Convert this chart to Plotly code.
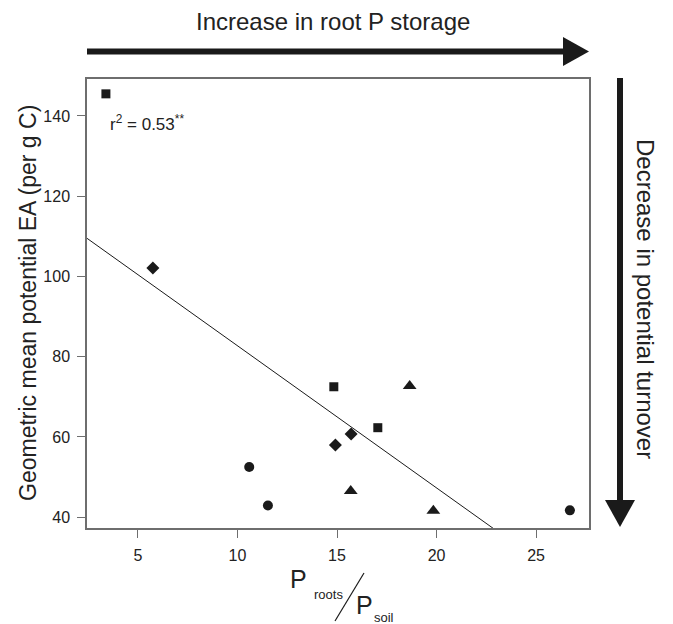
import numpy as np
import plotly.graph_objects as go

# ---- data ----
square_x = [3.39, 14.84, 17.05]
square_y = [145.5, 72.5, 62.3]
diamond_x = [5.75, 15.71, 14.92]
diamond_y = [102.1, 60.7, 58.0]
triangle_x = [18.65, 15.69, 19.84]
triangle_y = [72.7, 46.5, 41.6]
circle_x = [10.59, 11.53, 26.7]
circle_y = [52.5, 42.9, 41.7]

x_ticks = [5, 10, 15, 20, 25]
y_ticks = [40, 60, 80, 100, 120, 140]
x_range = [2.44, 27.66]
y_range = [37.3, 149.2]

# regression over all points
all_x = np.array(square_x + diamond_x + triangle_x + circle_x)
all_y = np.array(square_y + diamond_y + triangle_y + circle_y)
slope, intercept = np.polyfit(all_x, all_y, 1)
fit_x = np.array(x_range)
fit_y = intercept + slope * fit_x

FONT = "Liberation Sans, Arial, Helvetica, sans-serif"
INK = "#1a1a1a"

fig = go.Figure()
fig.add_trace(go.Scatter(x=fit_x, y=fit_y, mode="lines",
                         line=dict(color=INK, width=1), showlegend=False,
                         hoverinfo="skip"))
for xs, ys, sym, sz in [(square_x, square_y, "square", 9),
                        (diamond_x, diamond_y, "diamond", 10),
                        (triangle_x, triangle_y, "triangle-up", 12),
                        (circle_x, circle_y, "circle", 10)]:
    fig.add_trace(go.Scatter(x=xs, y=ys, mode="markers",
                             marker=dict(symbol=sym, size=sz, color=INK,
                                         line=dict(width=0)),
                             showlegend=False))

W, H = 502.0, 449.0
L, T = 87.0, 79.0
def px(xp):
    return (xp - L) / W
def py(yp):
    return (T + H - yp) / H

shapes = []
# horizontal arrow
shapes.append(dict(type="line", xref="paper", yref="paper",
                   x0=px(87), x1=px(566), y0=py(51.5), y1=py(51.5),
                   line=dict(color=INK, width=6)))
shapes.append(dict(type="path", xref="paper", yref="paper",
                   path=f"M {px(563)} {py(37)} L {px(589)} {py(51.5)} L {px(563)} {py(66)} Z",
                   fillcolor=INK, line=dict(width=0)))
# vertical arrow
shapes.append(dict(type="line", xref="paper", yref="paper",
                   x0=px(620), x1=px(620), y0=py(78), y1=py(503),
                   line=dict(color=INK, width=6)))
shapes.append(dict(type="path", xref="paper", yref="paper",
                   path=f"M {px(605)} {py(500)} L {px(635)} {py(500)} L {px(620)} {py(527)} Z",
                   fillcolor=INK, line=dict(width=0)))
# slash in x-axis title
shapes.append(dict(type="line", xref="paper", yref="paper",
                   x0=px(335), y0=py(621), x1=px(364), y1=py(573),
                   line=dict(color=INK, width=1.2)))

annotations = [
    dict(text="Increase in root P storage", x=px(333), y=py(21),
         font=dict(size=24)),
    dict(text="Decrease in potential turnover", x=px(646), y=py(299),
         textangle=90, font=dict(size=24)),
    dict(text="Geometric mean potential EA (per g C)", x=px(28), y=py(303),
         textangle=-90, font=dict(size=23)),
    dict(text="r<sup>2</sup> = 0.53<sup>**</sup>", x=px(108), y=py(123),
         xanchor="left", font=dict(size=17)),
    dict(text="P", x=px(298), y=py(579), font=dict(size=25)),
    dict(text="roots", x=px(328), y=py(594), font=dict(size=13)),
    dict(text="P", x=px(364), y=py(605), font=dict(size=25)),
    dict(text="soil", x=px(384), y=py(617), font=dict(size=13)),
]
for a in annotations:
    a.setdefault("xanchor", "center")
    a.update(xref="paper", yref="paper", yanchor="middle", showarrow=False)
    a["font"].update(family=FONT, color="#222222")

axis_common = dict(showline=True, linecolor="#6e6e6e", linewidth=1.5,
                   mirror=True, ticks="outside", ticklen=8, tickwidth=1.2,
                   tickcolor="#6e6e6e", showgrid=False, zeroline=False,
                   ticklabelstandoff=4,
                   tickfont=dict(family=FONT, size=16, color="#222222"))

fig.update_layout(
    width=673, height=624,
    margin=dict(l=87, r=84, t=79, b=96),
    paper_bgcolor="white", plot_bgcolor="white",
    xaxis=dict(range=x_range, tickvals=x_ticks, **axis_common),
    yaxis=dict(range=y_range, tickvals=y_ticks, **axis_common),
    shapes=shapes, annotations=annotations,
    font=dict(family=FONT),
)

fig.write_html("out.html",
               config={"displayModeBar": False},
               post_script="document.body.style.margin='0';"
                           "document.body.style.overflow='hidden';")
